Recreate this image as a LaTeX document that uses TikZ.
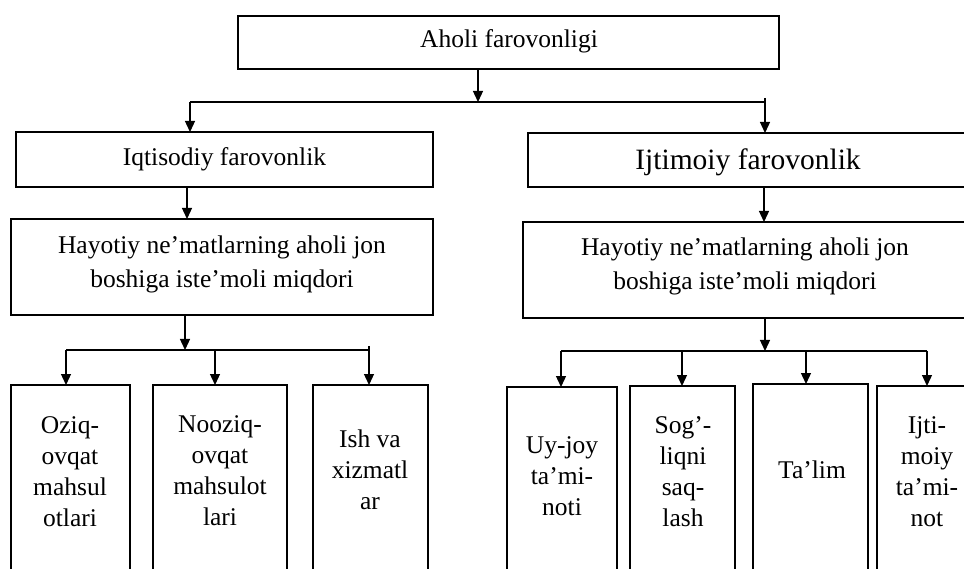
\documentclass[tikz,border=0pt]{standalone}
\usepackage{fontspec}
\setmainfont{Liberation Serif}
\usetikzlibrary{arrows.meta}
\newcommand{\mlines}[1]{\begin{tabular}[t]{@{}c@{}}#1\end{tabular}}
\tikzset{
  box/.style={draw, line width=1.6pt, rectangle, inner sep=0pt, outer sep=0pt},
  lbl/.style={anchor=base, inner sep=0pt, font=\fontsize{25.5}{31.3}\selectfont},
  lblbig/.style={anchor=base, inner sep=0pt, font=\fontsize{29.5}{34}\selectfont},
  lblmid/.style={anchor=base, inner sep=0pt, font=\fontsize{25.5}{33.5}\selectfont},
  conn/.style={line width=1.3pt},
  arr/.style={line width=1.3pt, -{Triangle[length=11pt,width=10pt]}},
}
\begin{document}
\begin{tikzpicture}[x=1pt,y=-1pt]
\clip (0,0) rectangle (964,569);
\fill[white] (0,0) rectangle (964,569);
% boxes
\node[box, minimum width=541pt, minimum height=53pt] (A) at (508.5,42.5) {};
\node[box, minimum width=417pt, minimum height=55pt] (L1) at (224.5,159.5) {};
\node[box, minimum width=440pt, minimum height=54pt] (R1) at (748,160) {};
\node[box, minimum width=422pt, minimum height=96pt] (L2) at (222,267) {};
\node[box, minimum width=444pt, minimum height=96pt] (R2) at (745,270) {};
\node[box, minimum width=119pt, minimum height=215pt] (B1) at (70.5,492.5) {};
\node[box, minimum width=134pt, minimum height=215pt] (B2) at (220,492.5) {};
\node[box, minimum width=115pt, minimum height=215pt] (B3) at (370.5,492.5) {};
\node[box, minimum width=110pt, minimum height=215pt] (C1) at (562,494.5) {};
\node[box, minimum width=105pt, minimum height=215pt] (C2) at (682.5,493.5) {};
\node[box, minimum width=115pt, minimum height=215pt] (C3) at (810.5,491.5) {};
\node[box, minimum width=100pt, minimum height=215pt] (C4) at (927,493.5) {};
% texts
\node[lbl] (tA) at (509,47.7) {Aholi farovonligi};
\node[lbl] (tL1) at (224.5,166) {Iqtisodiy farovonlik};
\node[lblbig] (tR1) at (748,170) {Ijtimoiy farovonlik};
\node[lblmid] (tL2) at (222,254) {\mlines{Hayotiy ne’matlarning aholi jon\\boshiga iste’moli miqdori}};
\node[lblmid] (tR2) at (745,256) {\mlines{Hayotiy ne’matlarning aholi jon\\boshiga iste’moli miqdori}};
\node[lbl] (tB1) at (70,433) {\mlines{Oziq-\\ovqat\\mahsul\\otlari}};
\node[lbl] (tB2) at (220,432) {\mlines{Nooziq-\\ovqat\\mahsulot\\lari}};
\node[lbl] (tB3) at (370,447) {\mlines{Ish va\\xizmatl\\ar}};
\node[lbl] (tC1) at (562,453) {\mlines{Uy-joy\\ta’mi-\\noti}};
\node[lbl] (tC2) at (683,433) {\mlines{Sog’-\\liqni\\saq-\\lash}};
\node[lbl] (tC3) at (812,478) {Ta’lim};
\node[lbl] (tC4) at (927,433) {\mlines{Ijti-\\moiy\\ta’mi-\\not}};
% junction coordinates
\coordinate (h0) at (478,102);
\coordinate (hL) at (190,102);
\coordinate (hR) at (765,102);
\coordinate (hRt) at (765,98);
\coordinate (k1) at (187,190);
\coordinate (k2) at (764,190);
\coordinate (jL) at (185,350);
\coordinate (jL1) at (66,350);
\coordinate (jL2) at (215,350);
\coordinate (jL3) at (369,350);
\coordinate (jL3t) at (369,346);
\coordinate (jR) at (765,351);
\coordinate (jR1) at (561,351);
\coordinate (jR2) at (682,351);
\coordinate (jR3) at (806,351);
\coordinate (jR4) at (927,351);
% connectors
\draw[arr] (A.south -| h0) -- (h0);
\draw[conn] (hL) -- (hR) -- (hRt);
\draw[arr] (hL) -- (hL |- L1.north);
\draw[arr] (hRt) -- (hR |- R1.north);
\draw[arr] (L1.south -| k1) -- (k1 |- L2.north);
\draw[arr] (R1.south -| k2) -- (k2 |- R2.north);
\draw[arr] (L2.south -| jL) -- (jL);
\draw[conn] (jL1) -- (jL3) -- (jL3t);
\draw[arr] (jL1) -- (jL1 |- B1.north);
\draw[arr] (jL2) -- (jL2 |- B2.north);
\draw[arr] (jL3t) -- (jL3 |- B3.north);
\draw[arr] (R2.south -| jR) -- (jR);
\draw[conn] (jR1) -- (jR4);
\draw[arr] (jR1) -- (jR1 |- C1.north);
\draw[arr] (jR2) -- (jR2 |- C2.north);
\draw[arr] (jR3) -- (jR3 |- C3.north);
\draw[arr] (jR4) -- (jR4 |- C4.north);
\end{tikzpicture}
\end{document}
